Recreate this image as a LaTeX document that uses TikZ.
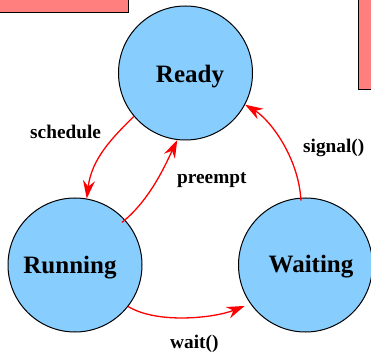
\documentclass[tikz,border=0pt]{standalone}
\usepackage{fontspec}
\setmainfont{Liberation Serif}
\usetikzlibrary{arrows.meta}
\definecolor{stateblue}{HTML}{87CEFF}
\definecolor{boxpink}{RGB}{255,127,127}
\tikzset{
  state/.style={circle, draw=black, line width=1pt, fill=stateblue, minimum size=134pt, inner sep=0pt},
  statetext/.style={anchor=base, inner sep=0pt, font=\fontsize{25}{25}\selectfont\bfseries},
  edgelabel/.style={anchor=base west, inner sep=0pt, font=\fontsize{19.3}{19.3}\selectfont\bfseries},
  trans/.style={draw=red, line width=1.3pt, -{Stealth[length=18pt,width=12pt,inset=6pt]}},
  pinkbox/.style={draw=black, line width=1pt, fill=boxpink}
}
\begin{document}
\begin{tikzpicture}[x=1pt,y=-1pt]
\useasboundingbox (0,0) rectangle (371,352);
\clip (0,0) rectangle (371,352);
\draw[pinkbox] (-5,-5) rectangle (128,13);
\draw[pinkbox] (358,-5) rectangle (380,90);
\node[state] (R) at (185.5,73) {};
\node[state] (Ru) at (75,265) {};
\node[state] (W) at (305.5,265) {};
\node[statetext] (Rt) at (190,83) {Ready};
\node[statetext] (Rut) at (70,273) {Running};
\node[statetext] (Wt) at (311,272) {Waiting};
\draw[trans] (R.220) .. controls +(-22,22) and +(5,-40) .. (Ru.80);
\draw[trans, shorten <=-4pt] (Ru.42) .. controls +(25,-20) and +(-12,25) .. (R.263);
\draw[trans, shorten <=-3pt] (W.94) .. controls +(-2,-40) and +(25,15) .. (R.332);
\draw[trans, shorten >=6pt] (Ru.322) .. controls +(30,18) and +(-35,14) .. (W.215);
\node[edgelabel] (ls) at (30,139) {schedule};
\node[edgelabel] (lp) at (177,184) {preempt};
\node[edgelabel] (lg) at (303,153) {signal()};
\node[edgelabel] (lw) at (170,348) {wait()};
\end{tikzpicture}
\end{document}
